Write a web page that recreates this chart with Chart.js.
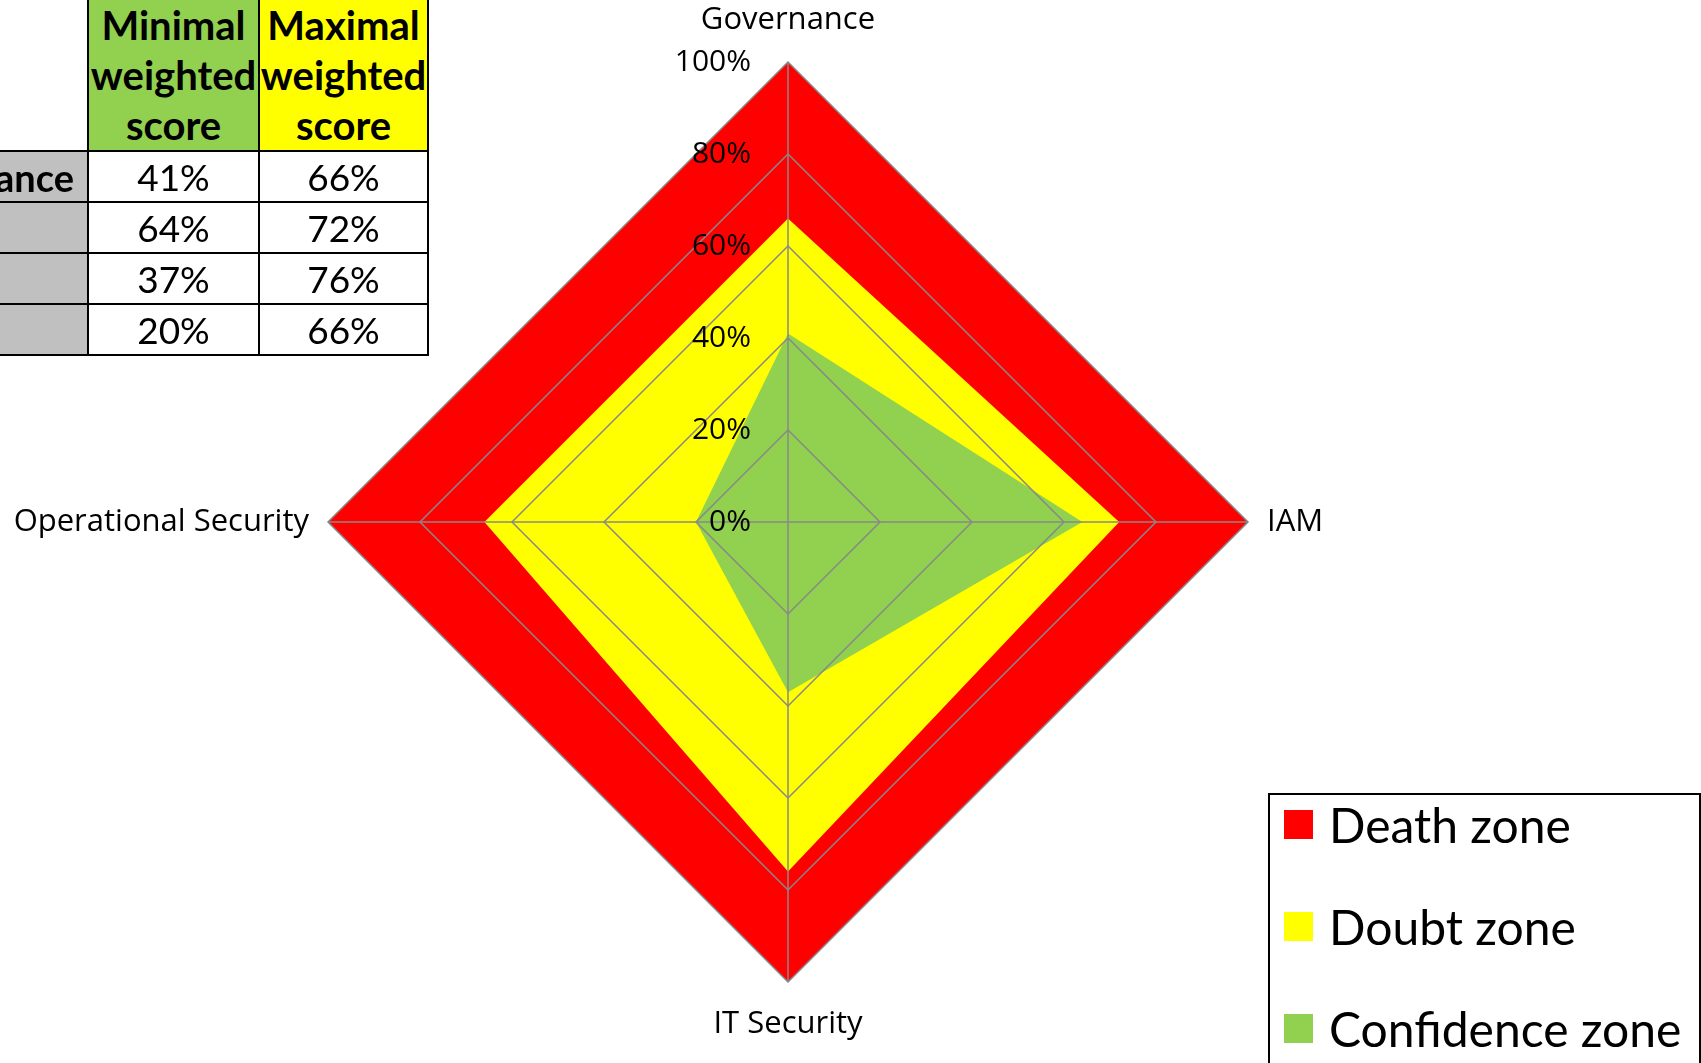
<!DOCTYPE html>
<html>
<head>
<meta charset="utf-8">
<script src="https://cdn.jsdelivr.net/npm/chart.js@4"></script>
<style>
  html, body { margin: 0; padding: 0; background: #fff; overflow: hidden; }
  body { width: 1701px; height: 1063px; position: relative; }
  #zoneChart { position: absolute; left: 0; top: 0; }
  #scoreTable {
    position: absolute; left: -213px; top: 0;
    border-collapse: collapse; font-family: Lato, sans-serif; color: #000;
  }
  #scoreTable td, #scoreTable th { padding: 0; height: 49px; }
  #scoreTable th {
    font-weight: bold; font-size: 40px; line-height: 50px; height: 150px;
    border: 2px solid #000; border-top: none; text-align: center;
  }
  #scoreTable th.blank { border: none; border-bottom: 2px solid #000; background: #fff; }
  #scoreTable td { font-size: 37px; text-align: center; border: 2px solid #000; }
  #scoreTable td.rowLabel {
    background: #c0c0c0; font-weight: bold; font-size: 38px; text-align: left;
    padding-left: 84px; white-space: nowrap; overflow: hidden; border-left: none;
  }
  #legendBox {
    position: absolute; left: 1268px; top: 793px; width: 433px; height: 300px;
    border: 2px solid #000; box-sizing: border-box; font-family: Lato, sans-serif;
  }
  .legendItem { position: absolute; left: 14px; height: 40px; display: flex; align-items: center; }
  .legendItem span.box { width: 29px; height: 29px; margin-right: 16px; }
  .legendItem span.text { font-size: 48px; white-space: nowrap; }
</style>
</head>
<body>
<canvas id="zoneChart" width="1701" height="1063"></canvas>
<table id="scoreTable"></table>
<div id="legendBox"></div>
<script>
const categories = ['Governance', 'IAM', 'IT Security', 'Operational Security'];
const tableRows = ['Governance', 'IAM', 'IT Sec', 'OpSec'];
const minScores = [41, 64, 37, 20];
const maxScores = [66, 72, 76, 66];
const deathZone = [100, 100, 100, 100];
const tickValues = [0, 20, 40, 60, 80, 100];

let chart;

// draws the % ticks and the axis names on top of the filled zones
const labelPlugin = {
    id: 'zoneLabels',
    afterDraw(c) {
        const scale = c.scales.r;
        const ctx = c.ctx;
        ctx.save();
        ctx.fillStyle = '#000';
        ctx.font = '30px "Open Sans"';
        ctx.textAlign = 'right';
        ctx.textBaseline = 'middle';
        tickValues.forEach(v => {
            const y = scale.yCenter - scale.getDistanceFromCenterForValue(v);
            ctx.fillText(v + '%', scale.xCenter - 37, y);
        });

        ctx.font = '31px "Open Sans"';
        categories.forEach((label, i) => {
            const a = scale.getPointPosition(i, 0).angle;
            const dx = Math.cos(a);
            const dy = Math.sin(a);
            const pad = 19 + 23 * Math.abs(dy);
            const pos = scale.getPointPosition(i, scale.drawingArea + pad);
            if (Math.abs(dx) < 0.1) {
                ctx.textAlign = 'center';
            } else if (dx > 0) {
                ctx.textAlign = 'left';
            } else {
                ctx.textAlign = 'right';
            }
            ctx.fillText(label, pos.x, pos.y);
        });
        ctx.restore();
    }
};

function createChart() {
    const ctx = document.getElementById('zoneChart').getContext('2d');

    chart = new Chart(ctx, {
        type: 'radar',
        data: {
            labels: categories,
            datasets: [{
                label: 'Death zone',
                data: deathZone,
                backgroundColor: '#ff0000',
                order: 3
            }, {
                label: 'Doubt zone',
                data: maxScores,
                backgroundColor: '#ffff00',
                order: 2
            }, {
                label: 'Confidence zone',
                data: minScores,
                backgroundColor: '#92d050',
                order: 1
            }]
        },
        options: {
            responsive: false,
            animation: false,
            layout: {
                padding: { left: 328, right: 453, top: 62, bottom: 81 }
            },
            elements: {
                line: { fill: true, borderWidth: 0, tension: 0 },
                point: { radius: 0, hoverRadius: 0 }
            },
            plugins: {
                legend: { display: false },
                tooltip: { enabled: false }
            },
            scales: {
                r: {
                    min: 0,
                    max: 100,
                    ticks: { stepSize: 20, display: false },
                    grid: { color: '#888888', lineWidth: 1.5, z: 1 },
                    angleLines: { color: '#888888', lineWidth: 1.5 },
                    pointLabels: { display: false }
                }
            }
        },
        plugins: [labelPlugin]
    });
}

function buildTable() {
    let html = '<tr><th class="blank" style="width:300px"></th>' +
        '<th style="width:169px;background:#92d050">Minimal<br>weighted<br>score</th>' +
        '<th style="width:167px;background:#ffff00">Maximal<br>weighted<br>score</th></tr>';
    tableRows.forEach((name, i) => {
        html += `<tr><td class="rowLabel">${name}</td><td>${minScores[i]}%</td><td>${maxScores[i]}%</td></tr>`;
    });
    document.getElementById('scoreTable').innerHTML = html;
}

function buildLegend() {
    const box = document.getElementById('legendBox');
    let html = '';
    chart.data.datasets.forEach((ds, i) => {
        html += `<div class="legendItem" style="top:${9 + i * 102}px">` +
            `<span class="box" style="background:${ds.backgroundColor}"></span>` +
            `<span class="text">${ds.label}</span></div>`;
    });
    box.innerHTML = html;
}

createChart();
buildTable();
buildLegend();
</script>
</body>
</html>
